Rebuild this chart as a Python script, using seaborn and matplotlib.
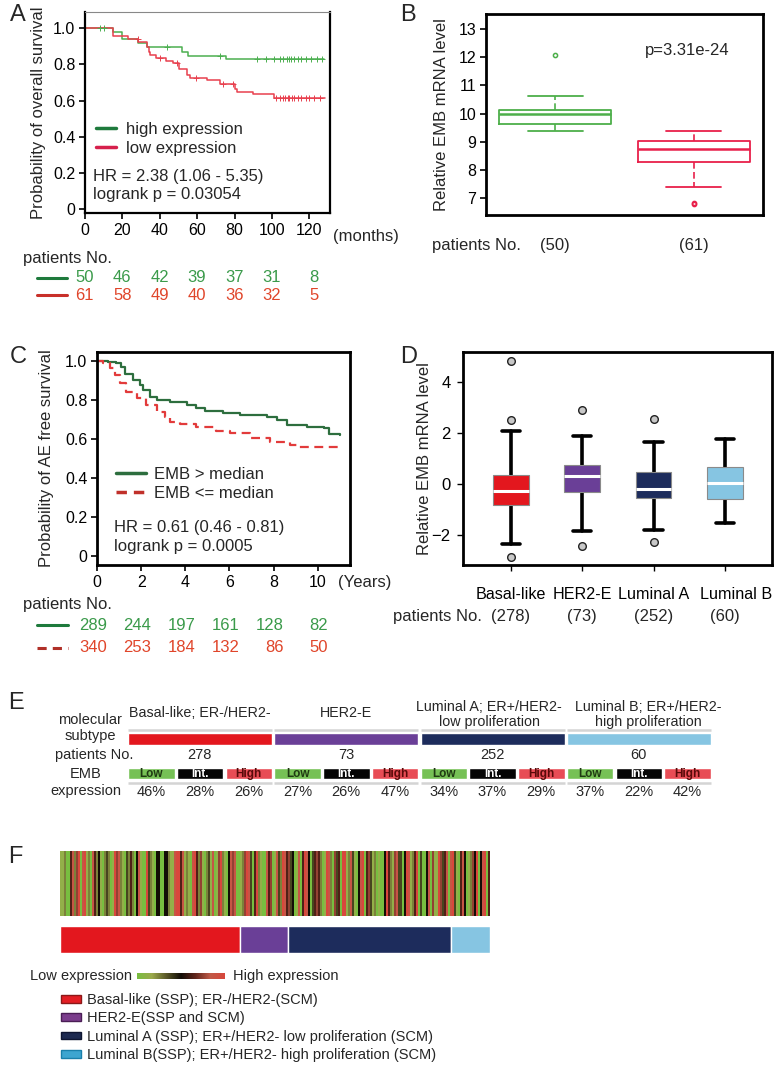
import matplotlib
matplotlib.use('Agg')
import numpy as np
import pandas as pd
import matplotlib.pyplot as plt
import seaborn as sns
from matplotlib import transforms
from matplotlib.lines import Line2D
from matplotlib.patches import Patch
from matplotlib.colors import LinearSegmentedColormap

# ---------------------------
# Data
# ---------------------------
# A: overall survival (months), step curves
a_high_t = [0, 15, 20, 28.5, 33, 52, 55, 75.5, 128]
a_high_s = [1.0, 0.978, 0.939, 0.917, 0.895, 0.871, 0.849, 0.830, 0.830]
a_low_t = [0, 15, 23, 28.5, 33, 34, 35, 38, 43.5, 47, 50.3, 54.8, 56, 65, 72, 80, 81.2, 90, 101, 128.5]
a_low_s = [1.0, 0.959, 0.939, 0.923, 0.895, 0.871, 0.852, 0.834, 0.819, 0.806, 0.773,
           0.742, 0.727, 0.714, 0.694, 0.664, 0.646, 0.635, 0.616, 0.616]
a_high_cens = [8, 10, 43.6, 72, 92, 97, 101, 104, 106, 108, 109, 110, 111.5, 114, 115.6, 118, 121, 124, 126.8]
a_low_cens = [28.4, 40, 49, 59.6, 73.8, 79, 102, 104, 106, 107, 108.4, 109.3, 110.8, 112, 113.8,
              115.6, 117.9, 120, 122.7, 125.7]
a_risk_t = [0, 20, 40, 60, 80, 100, 120]
a_risk_high = [50, 46, 42, 39, 37, 31, 8]
a_risk_low = [61, 58, 49, 40, 36, 32, 5]

# B: EMB level, high vs low group
b_med = [9.98, 8.74]
b_q1 = [9.63, 8.28]
b_q3 = [10.14, 9.02]
b_lo = [9.37, 7.38]
b_hi = [10.61, 9.37]
b_fliers = [[12.07], [6.78, 6.84]]
b_n = [50, 61]

# C: AE free survival (years)
c_high_t = [0, 0.5, 0.88, 1.1, 1.26, 1.64, 1.94, 2.09, 2.4, 2.7, 3.3, 4.06, 4.5, 4.9, 5.7, 6.5,
            7.7, 8.15, 8.6, 9.5, 10.3, 10.5, 11.0]
c_high_s = [1.0, 0.997, 0.988, 0.971, 0.932, 0.902, 0.877, 0.851, 0.817, 0.8, 0.788, 0.774, 0.757,
            0.743, 0.731, 0.723, 0.714, 0.697, 0.671, 0.663, 0.654, 0.623, 0.62]
c_low_t = [0, 0.27, 0.58, 0.8, 1.03, 1.33, 1.79, 2.24, 2.7, 3.08, 3.3, 3.76, 4.5, 5.4, 6.03, 6.94,
           7.85, 8.76, 9.1, 11.0]
c_low_s = [1.0, 0.988, 0.962, 0.928, 0.885, 0.842, 0.808, 0.774, 0.74, 0.714, 0.688, 0.676, 0.663,
           0.640, 0.628, 0.603, 0.582, 0.568, 0.56, 0.56]
c_risk_t = [0, 2, 4, 6, 8, 10]
c_risk_high = [289, 244, 197, 161, 128, 82]
c_risk_low = [340, 253, 184, 132, 86, 50]

# D: EMB level by subtype
subtypes = ['Basal-like', 'HER2-E', 'Luminal A', 'Luminal B']
d_med = [-0.30, 0.29, -0.21, 0.03]
d_q1 = [-0.85, -0.34, -0.54, -0.59]
d_q3 = [0.33, 0.75, 0.46, 0.64]
d_lo = [-2.37, -1.84, -1.80, -1.54]
d_hi = [2.08, 1.88, 1.62, 1.76]
d_fliers = [[4.8, 2.51, -2.85], [2.88, -2.43], [2.55, -2.26], []]
n_patients = [278, 73, 252, 60]

# E: EMB expression split per subtype
e_titles = ['Basal-like; ER-/HER2-', 'HER2-E', 'Luminal A; ER+/HER2-\nlow proliferation',
            'Luminal B; ER+/HER2-\nhigh proliferation']
emb_levels = ['Low', 'Int.', 'High']
emb_pct = [[46, 28, 26], [27, 26, 47], [34, 37, 29], [37, 22, 42]]

# F: EMB expression per patient (0 = low/green, 4 = black, 8 = high/red), estimated stripes
strip = ("1120057268078120752410232018672103252047100"
         "8321044004421178857121078526102317016821047"
         "6700126873058210075601732875634017058740356"
         "5201872063508812731047805631201004852167330"
         "4871258030047061186357078310574012648047805")
f_legend = ['Basal-like (SSP); ER-/HER2-(SCM)', 'HER2-E(SSP and SCM)',
            'Luminal A (SSP); ER+/HER2- low proliferation (SCM)',
            'Luminal B(SSP); ER+/HER2- high proliferation (SCM)']

# ---------------------------
# Style
# ---------------------------
sns.set_theme(style='white')
plt.rcParams['font.family'] = ['Liberation Sans', 'DejaVu Sans']

A_GREEN, A_RED = '#4CAF50', '#E8404E'
C_GREEN, C_RED = '#2D6E3E', '#E23B3B'
NUM_GREEN, NUM_RED = '#3A9A4A', '#E0452A'
sub_colors = ['#E3171E', '#6A3F97', '#1D2C5C', '#86C5E2']
emb_colors = ['#76C155', '#050505', '#E84C55']
emb_text = ['#1F3A12', 'white', '#5A0A0A']
heat_cmap = LinearSegmentedColormap.from_list(
    'gbr', ['#78BE40', '#9CAA4C', '#5A5828', '#120D06', '#62261C', '#C05A48', '#D8473C'])

W, H = 775, 1072
fig = plt.figure(figsize=(W / 100, H / 100), dpi=100)


def px_axes(l, t, r, b):
    return fig.add_axes([l / W, 1 - b / H, (r - l) / W, (b - t) / H])


def fx(x):
    return x / W


def fy(y):
    return 1 - y / H


def style_spines(ax, lw=2.0, top=None):
    for s in ax.spines.values():
        s.set_color('black')
        s.set_linewidth(lw)
    if top is not None:
        ax.spines['top'].set_color(top)
        ax.spines['top'].set_linewidth(0.8)


def step_at(t, s, ct):
    idx = np.searchsorted(t, ct, side='right') - 1
    return np.asarray(s)[idx]


# ---------------------------
# A
# ---------------------------
axA = px_axes(85, 12, 330, 213)
dfA = pd.concat([pd.DataFrame({'t': a_high_t, 's': a_high_s, 'g': 'high'}),
                 pd.DataFrame({'t': a_low_t, 's': a_low_s, 'g': 'low'})])
sns.lineplot(data=dfA, x='t', y='s', hue='g', palette={'high': A_GREEN, 'low': A_RED},
             drawstyle='steps-post', estimator=None, lw=1.1, legend=False, ax=axA)
axA.plot(a_high_cens, step_at(a_high_t, a_high_s, a_high_cens), '+', color=A_GREEN, ms=4, mew=0.7)
axA.plot(a_low_cens, step_at(a_low_t, a_low_s, a_low_cens), '+', color=A_RED, ms=4, mew=0.7)
axA.set_xlim(0, 131)
axA.set_ylim(-0.022, 1.09)
axA.set_xticks(a_risk_t)
axA.set_yticks([0, 0.2, 0.4, 0.6, 0.8, 1.0])
axA.set_yticklabels(['0', '0.2', '0.4', '0.6', '0.8', '1.0'])
axA.set_xlabel('')
axA.set_ylabel('Probability of overall survival', fontsize=12)
axA.yaxis.set_label_coords(-0.16, 0.5)
axA.tick_params(labelsize=11.5, length=4, width=1.2, bottom=True, left=True, pad=3, colors='black')
style_spines(axA, 1.6, top='#888888')
fig.text(fx(333), fy(237), '(months)', fontsize=12, va='center', ha='left')
axA.legend(handles=[Line2D([], [], color='#1E7A3C', lw=2.5), Line2D([], [], color='#D6204C', lw=2.5)],
           labels=['high expression', 'low expression'], loc='upper left',
           bbox_to_anchor=(fx(96), fy(122)), bbox_transform=fig.transFigure, frameon=False,
           fontsize=12, handlelength=1.2, handletextpad=0.6, labelspacing=0.25,
           borderpad=0, borderaxespad=0)
fig.text(fx(93), fy(176), 'HR = 2.38 (1.06 - 5.35)', fontsize=12, va='center')
fig.text(fx(93), fy(195), 'logrank p = 0.03054', fontsize=12, va='center')

trA = transforms.blended_transform_factory(axA.transData, fig.transFigure)
trA_num = transforms.offset_copy(trA, fig=fig, x=9, units='dots')
fig.text(fx(23), fy(258), 'patients No.', fontsize=12, va='center')
fig.add_artist(Line2D([fx(37), fx(67)], [fy(278), fy(278)], color='#1E7A3C', lw=2.2))
fig.add_artist(Line2D([fx(37), fx(67)], [fy(295), fy(295)], color='#C8302A', lw=2.2))
for t, nh, nl in zip(a_risk_t, a_risk_high, a_risk_low):
    fig.text(t, fy(278), str(nh), transform=trA_num, fontsize=12, color=NUM_GREEN, ha='right', va='center')
    fig.text(t, fy(295), str(nl), transform=trA_num, fontsize=12, color=NUM_RED, ha='right', va='center')

# ---------------------------
# B
# ---------------------------
axB = px_axes(486, 14, 763, 215)
statsB = [dict(med=m, q1=a, q3=b, whislo=lo, whishi=hi, fliers=f)
          for m, a, b, lo, hi, f in zip(b_med, b_q1, b_q3, b_lo, b_hi, b_fliers)]
bpB = axB.bxp(statsB, positions=[0, 1], widths=0.81, capwidths=0.4, showfliers=True)
for i, col in enumerate(['#4DAF4A', '#E8204A']):
    bpB['boxes'][i].set(color=col, lw=1.3)
    bpB['medians'][i].set(color=col, lw=1.8)
    for w in bpB['whiskers'][2 * i:2 * i + 2]:
        w.set(color=col, lw=1.2, linestyle=(0, (4, 2)))
    for c in bpB['caps'][2 * i:2 * i + 2]:
        c.set(color=col, lw=1.3)
    bpB['fliers'][i].set(marker='o', ms=3, mfc='none', mec=col, mew=1.1)
axB.set_xlim(-0.5, 1.5)
axB.set_ylim(6.40, 13.53)
axB.set_xticks([])
axB.set_yticks(range(7, 14))
axB.set_ylabel('Relative EMB mRNA level', fontsize=12)
axB.yaxis.set_label_coords(-0.135, 0.5)
axB.tick_params(labelsize=11.5, length=4, width=1.2, left=True, pad=3, colors='black')
style_spines(axB, 2.0)
fig.text(fx(645), fy(50), 'p=3.31e-24', fontsize=12, va='center')
trB = transforms.blended_transform_factory(axB.transData, fig.transFigure)
fig.text(fx(432), fy(245), 'patients No.', fontsize=12, va='center')
for i, n in enumerate(b_n):
    fig.text(i, fy(245), f'({n})', transform=trB, fontsize=12, ha='center', va='center')

# ---------------------------
# C
# ---------------------------
axC = px_axes(97, 352, 350, 565)
sns.lineplot(x=c_high_t, y=c_high_s, color=C_GREEN, drawstyle='steps-post', estimator=None,
             lw=1.6, ax=axC)
sns.lineplot(x=c_low_t, y=c_low_s, color=C_RED, drawstyle='steps-post', estimator=None,
             lw=1.6, linestyle=(0, (4, 2.5)), ax=axC)
axC.set_xlim(0, 11.46)
axC.set_ylim(-0.048, 1.046)
axC.set_xticks(c_risk_t)
axC.set_yticks([0, 0.2, 0.4, 0.6, 0.8, 1.0])
axC.set_yticklabels(['0', '0.2', '0.4', '0.6', '0.8', '1.0'])
axC.set_ylabel('Probability of AE free survival', fontsize=12)
axC.yaxis.set_label_coords(-0.17, 0.5)
axC.tick_params(labelsize=11.5, length=4, width=1.2, bottom=True, left=True, pad=3, colors='black')
style_spines(axC, 2.0)
fig.text(fx(338), fy(583), '(Years)', fontsize=12, va='center', ha='left')
axC.legend(handles=[Line2D([], [], color=C_GREEN, lw=2.5),
                    Line2D([], [], color='#C0302A', lw=2.5, linestyle=(0, (3, 2)))],
           labels=['EMB > median', 'EMB <= median'], loc='upper left',
           bbox_to_anchor=(fx(116), fy(467)), bbox_transform=fig.transFigure, frameon=False,
           fontsize=12, handlelength=1.8, handletextpad=0.5, labelspacing=0.25,
           borderpad=0, borderaxespad=0)
fig.text(fx(114), fy(527), 'HR = 0.61 (0.46 - 0.81)', fontsize=12, va='center')
fig.text(fx(114), fy(546), 'logrank p = 0.0005', fontsize=12, va='center')

trC = transforms.blended_transform_factory(axC.transData, fig.transFigure)
trC_num = transforms.offset_copy(trC, fig=fig, x=10, units='dots')
fig.text(fx(23), fy(604), 'patients No.', fontsize=12, va='center')
fig.add_artist(Line2D([fx(37), fx(68)], [fy(625), fy(625)], color='#1E7A3C', lw=2.2))
fig.add_artist(Line2D([fx(37), fx(68)], [fy(648), fy(648)], color='#B03028', lw=2.2,
                      linestyle=(0, (3, 2))))
for t, nh, nl in zip(c_risk_t, c_risk_high, c_risk_low):
    fig.text(t, fy(625), str(nh), transform=trC_num, fontsize=12, color=NUM_GREEN, ha='right', va='center')
    fig.text(t, fy(648), str(nl), transform=trC_num, fontsize=12, color=NUM_RED, ha='right', va='center')

# ---------------------------
# D
# ---------------------------
axD = px_axes(463, 352, 772, 565)
statsD = [dict(med=m, q1=a, q3=b, whislo=lo, whishi=hi, fliers=f)
          for m, a, b, lo, hi, f in zip(d_med, d_q1, d_q3, d_lo, d_hi, d_fliers)]
bpD = axD.bxp(statsD, positions=range(4), widths=0.5, capwidths=0.26, patch_artist=True,
              showfliers=True)
for i, col in enumerate(sub_colors):
    bpD['boxes'][i].set(facecolor=col, edgecolor='#8A8A8A', lw=0.8)
    bpD['medians'][i].set(color='white', lw=2.2)
    bpD['fliers'][i].set(marker='o', ms=5.5, mfc='#C8C8C8', mec='#222222', mew=1.0)
for w in bpD['whiskers']:
    w.set(color='black', lw=2.6, zorder=1)
for c in bpD['caps']:
    c.set(color='black', lw=2.6)
axD.set_xlim(-0.67, 3.66)
axD.set_ylim(-3.18, 5.16)
axD.set_yticks([-2, 0, 2, 4])
axD.set_xticks(range(4))
axD.set_xticklabels(subtypes)
axD.set_ylabel('Relative EMB mRNA level', fontsize=12)
axD.yaxis.set_label_coords(-0.10, 0.5)
axD.tick_params(labelsize=12, length=4, width=1.0, left=True, bottom=True, colors='black')
axD.tick_params(axis='x', pad=12, labelsize=11.6)
axD.tick_params(axis='y', pad=5)
# the last category label sits a little to the right in the reference
last = axD.get_xticklabels()[-1]
last.set_transform(last.get_transform() + transforms.ScaledTranslation(0.11, 0, fig.dpi_scale_trans))
style_spines(axD, 2.0)
trD = transforms.blended_transform_factory(axD.transData, fig.transFigure)
fig.text(fx(393), fy(617), 'patients No.', fontsize=12, va='center')
for i, n in enumerate(n_patients):
    fig.text(i, fy(617), f'({n})', transform=trD, fontsize=12, ha='center', va='center')

# ---------------------------
# E
# ---------------------------
axE = px_axes(128, 695, 713, 800)
axE.set_xlim(0, 4)
axE.set_ylim(800, 695)
axE.axis('off')
axE.barh([739] * 4, [0.985] * 4, left=range(4), height=12, color=sub_colors)
axE.hlines([729.5] * 4, range(4), [i + 0.985 for i in range(4)], color='#D4D4D4', lw=1.8)
axE.hlines([783] * 4, range(4), [i + 0.985 for i in range(4)], color='#D4D4D4', lw=1.8)
title_x = [0.49, 0.49, 0.47, 0.56]
for i in range(4):
    axE.text(i + title_x[i], 714.5 if '\n' in e_titles[i] else 713, e_titles[i], ha='center',
             va='center', fontsize=10.3, linespacing=1.15)
    axE.text(i + 0.49, 755, str(n_patients[i]), ha='center', va='center', fontsize=10.5)
    for j in range(3):
        left = i + j * 0.3335
        axE.barh(773.5, 0.318, left=left, height=11, color=emb_colors[j])
        axE.text(left + 0.159, 773.8, emb_levels[j], ha='center', va='center', fontsize=8.5,
                 fontweight='bold', color=emb_text[j])
        axE.text(left + 0.159, 792, f'{emb_pct[i][j]}%', ha='center', va='center', fontsize=10.5)
fig.text(fx(90), fy(728), 'molecular\nsubtype', ha='center', va='center', fontsize=10.5, linespacing=1.15)
fig.text(fx(94), fy(755), 'patients No.', ha='center', va='center', fontsize=10.5)
fig.text(fx(86), fy(782.5), 'EMB\nexpression', ha='center', va='center', fontsize=10.5, linespacing=1.2)

# ---------------------------
# F
# ---------------------------
axF = px_axes(60, 851, 490, 916)
vals = np.array([int(c) for c in strip])[None, :] / 8
sns.heatmap(vals, cmap=heat_cmap, vmin=0, vmax=1, cbar=False, xticklabels=False,
            yticklabels=False, ax=axF)

axS = px_axes(60, 926, 490, 953)
axS.barh(0, n_patients, left=np.cumsum([0] + n_patients[:-1]), height=1, color=sub_colors)
axS.set_xlim(0, sum(n_patients))
axS.set_ylim(-0.5, 0.5)
axS.axis('off')

axCb = px_axes(137, 973, 224, 979)
axCb.imshow(np.linspace(0, 1, 256)[None, :], cmap=heat_cmap, aspect='auto')
axCb.axis('off')
fig.text(fx(132), fy(976), 'Low expression', ha='right', va='center', fontsize=10.5)
fig.text(fx(233), fy(976), 'High expression', ha='left', va='center', fontsize=10.5)

leg_face = ['#E31E24', '#7B3D8C', '#1D2A50', '#3DA5D0']
leg_edge = ['#8B1818', '#4A1E55', '#0E1530', '#1A7FAA']
fig.legend(handles=[Patch(facecolor=f, edgecolor=e, lw=1) for f, e in zip(leg_face, leg_edge)],
           labels=f_legend, loc='upper left', bbox_to_anchor=(fx(61), fy(993)),
           frameon=False, fontsize=10.5, handlelength=1.4, handleheight=0.45,
           handletextpad=0.4, labelspacing=0.3, borderpad=0, borderaxespad=0)

# panel letters
for lab, x, y in [('A', 10, 15), ('B', 400, 15), ('C', 10, 357), ('D', 400, 357), ('E', 8, 703), ('F', 8, 857)]:
    fig.text(fx(x), fy(y), lab, fontsize=17, va='center', ha='left')

fig.savefig('out.png', dpi=100)
